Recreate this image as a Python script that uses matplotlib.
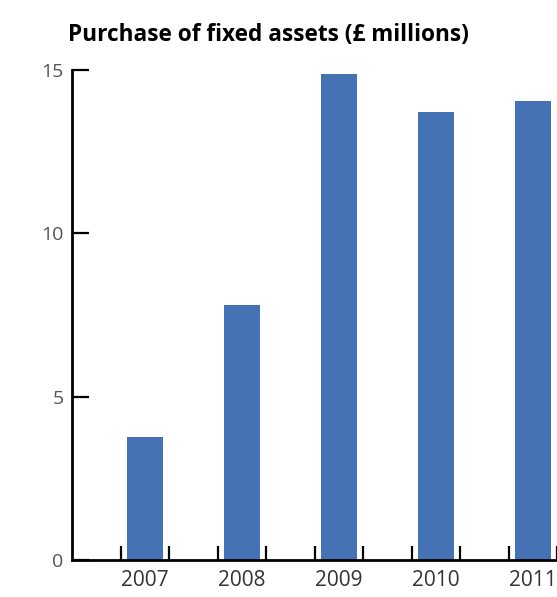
import matplotlib
matplotlib.use("Agg")
import matplotlib.pyplot as plt
import numpy as np

years = ["2007", "2008", "2009", "2010", "2011"]
purchases = [3.77, 7.8, 14.88, 13.71, 14.05]
y_ticks = [0, 5, 10, 15]

plt.rcParams['font.family'] = ['Open Sans', 'DejaVu Sans']

fig = plt.figure(figsize=(5.57, 5.97), dpi=100)
ax = fig.add_axes([72 / 557, 37 / 597, 1 - 72 / 557, (560 - 70) / 597])

x = np.arange(len(years))
ax.bar(x, purchases, width=0.367, color='#4472b4', zorder=2)

ax.set_xlim(-0.75, 4.2)
ax.set_ylim(0, 15)

# labels sit under the bars, tick marks bracket each bar
ax.set_xticks(x)
ax.set_xticklabels(years)
ax.set_xticks(np.concatenate([x - 0.25, x + 0.25]), minor=True)
ax.tick_params(axis='x', which='major', length=0, pad=7, labelsize=15, labelcolor='#333333')
ax.tick_params(axis='x', which='minor', direction='in', length=10, width=1.6, color='black')

ax.set_yticks(y_ticks)
ax.tick_params(axis='y', direction='in', length=12, width=1.6, pad=6,
               labelsize=14, labelcolor='#555555')

for side in ['top', 'right']:
    ax.spines[side].set_visible(False)
for side in ['left', 'bottom']:
    ax.spines[side].set_linewidth(2)

fig.text(68 / 557, 1 - 35 / 597, 'Purchase of fixed assets (£ millions)',
         fontsize=16.3, fontweight='bold', ha='left', va='center')

fig.savefig('out.png', dpi=100)
